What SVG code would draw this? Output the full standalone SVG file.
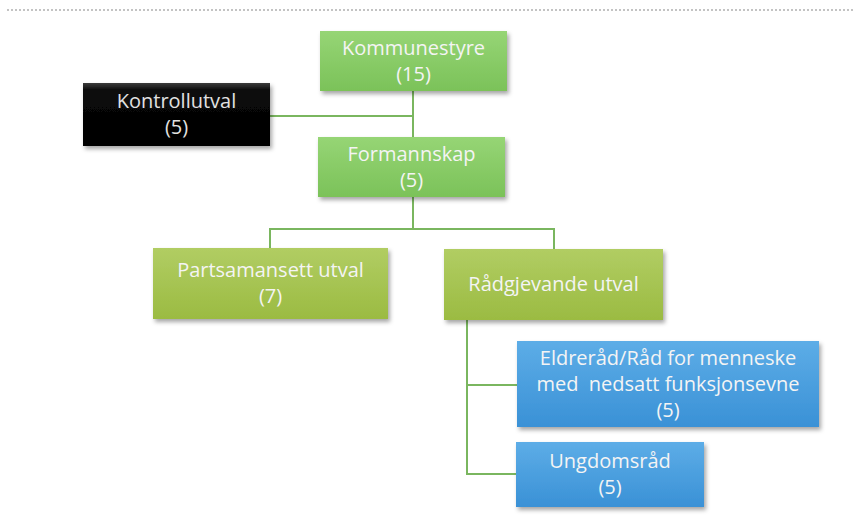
<svg xmlns="http://www.w3.org/2000/svg" width="853" height="523" viewBox="0 0 853 523">
  <defs>
    <linearGradient id="gGreen" x1="0" y1="0" x2="0" y2="1">
      <stop offset="0" stop-color="#96d575"/>
      <stop offset="1" stop-color="#7bc259"/>
    </linearGradient>
    <linearGradient id="gOlive" x1="0" y1="0" x2="0" y2="1">
      <stop offset="0" stop-color="#b1cd63"/>
      <stop offset="1" stop-color="#9bbb42"/>
    </linearGradient>
    <linearGradient id="gBlue" x1="0" y1="0" x2="0" y2="1">
      <stop offset="0" stop-color="#5dade7"/>
      <stop offset="1" stop-color="#3a91d6"/>
    </linearGradient>
    <linearGradient id="gBlack" x1="0" y1="0" x2="0" y2="1">
      <stop offset="0" stop-color="#3c3c3c"/>
      <stop offset="0.12" stop-color="#0a0a0a"/>
      <stop offset="1" stop-color="#000000"/>
    </linearGradient>
    <filter id="shadow" x="-10%" y="-10%" width="125%" height="135%">
      <feDropShadow dx="2" dy="3" stdDeviation="2" flood-color="#000" flood-opacity="0.35"/>
    </filter>
  </defs>
  <style>
    .lbl { font-family: "Open Sans", "Liberation Sans", sans-serif; font-size: 20px; fill: #f4f4f4; text-anchor: middle; white-space: pre; }
    .dark { fill: #e2e2e2; }
    .conn { fill: none; stroke: #7ab65f; stroke-width: 2; }
    .box { filter: url(#shadow); }
  </style>
  <rect width="853" height="523" fill="#ffffff"/>
  <line x1="7" y1="10" x2="853" y2="10" stroke="#b0b0b0" stroke-width="1.3" stroke-dasharray="2,2"/>

  <g id="connectors">
    <path class="conn" d="M413,91 V137"/>
    <path class="conn" d="M270,116 H413"/>
    <path class="conn" d="M413,197 V229 M270,248 V229 H554 V249"/>
    <path class="conn" d="M467,320 V474 H516 M467,385 H517"/>
  </g>

  <g id="kommunestyre">
    <rect class="box" x="320" y="31" width="187" height="60" fill="url(#gGreen)"/>
    <text class="lbl" x="413.5" y="55">Kommunestyre</text>
    <text class="lbl" x="413.5" y="81">(15)</text>
  </g>
  <g id="kontrollutval">
    <rect class="box" x="83" y="83" width="187" height="63" fill="url(#gBlack)"/>
    <text class="lbl dark" x="176.5" y="108">Kontrollutval</text>
    <text class="lbl dark" x="176.5" y="134">(5)</text>
  </g>
  <g id="formannskap">
    <rect class="box" x="318" y="137" width="187" height="60" fill="url(#gGreen)"/>
    <text class="lbl" x="411.5" y="161">Formannskap</text>
    <text class="lbl" x="411.5" y="187">(5)</text>
  </g>
  <g id="partsamansett">
    <rect class="box" x="153" y="248" width="235" height="71" fill="url(#gOlive)"/>
    <text class="lbl" x="270.5" y="277">Partsamansett utval</text>
    <text class="lbl" x="270.5" y="303">(7)</text>
  </g>
  <g id="radgjevande">
    <rect class="box" x="444" y="249" width="219" height="71" fill="url(#gOlive)"/>
    <text class="lbl" x="553.5" y="291">Rådgjevande utval</text>
  </g>
  <g id="eldrerad">
    <rect class="box" x="517" y="341" width="302" height="86" fill="url(#gBlue)"/>
    <text class="lbl" x="668" y="365">Eldreråd/Råd for menneske</text>
    <text class="lbl" x="668" y="391" xml:space="preserve">med  nedsatt funksjonsevne</text>
    <text class="lbl" x="668" y="417">(5)</text>
  </g>
  <g id="ungdomsrad">
    <rect class="box" x="516" y="442" width="188" height="65" fill="url(#gBlue)"/>
    <text class="lbl" x="610" y="468">Ungdomsråd</text>
    <text class="lbl" x="610" y="494">(5)</text>
  </g>
</svg>
